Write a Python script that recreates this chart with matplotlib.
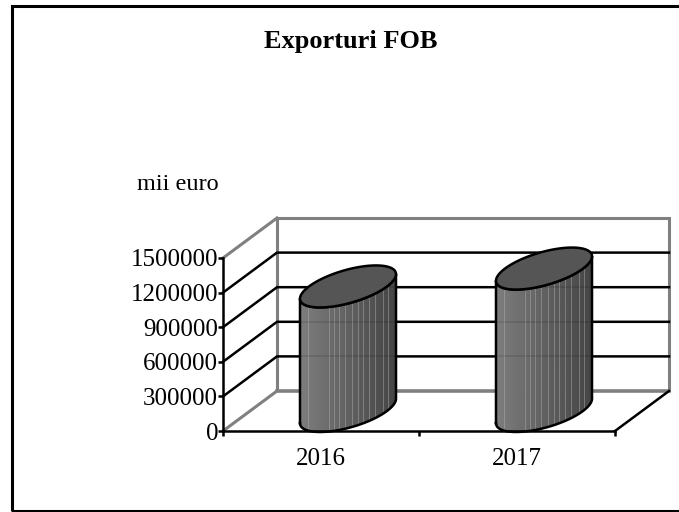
import numpy as np
from matplotlib import pyplot as plt
from matplotlib.patches import Polygon, Rectangle

W = 679
H = 512

years = ["2016", "2017"]
exports = [1080000, 1235000]
y_ticks = [0, 300000, 600000, 900000, 1200000, 1500000]
stripe_pos = [0.08, 0.30, 0.35, 0.41, 0.47, 0.54, 0.60, 0.66, 0.72, 0.78, 0.86, 0.92]

plt.rcParams["font.family"] = ["Liberation Serif", "DejaVu Serif"]

fig = plt.figure(figsize=(W/100, H/100), dpi=100)
ax = fig.add_axes([223/W, (H-431)/H, 392/W, 173/H])
ax.set_xlim(0, 2)
ax.set_ylim(0, 1500000)
ax.patch.set_alpha(0)

#one unit of depth in data units, so the "3d" box still goes through the axes scale
dx = 54/196
dy = 40/173*1500000

def back(x, y, d=1.0):
  return x + d*dx, y + d*dy

#outer frame runs off the right edge of the picture
fig.add_artist(Rectangle((12/W, 1.5/H), 700/W, (H-7.5)/H, transform=fig.transFigure,
  fill=False, ec="black", lw=2.2))

#walls
wall = [back(0, 0), back(0, 1500000), back(2, 1500000), back(2, 0)]
ax.add_patch(Polygon(wall, closed=False, fill=False, ec="#808080", lw=2.2, clip_on=False, zorder=1))
bx, by = zip(back(0, 0), back(2, 0))
ax.plot(bx, by, color="#808080", lw=2.6, clip_on=False, zorder=1)
bx, by = zip((0, 1500000), back(0, 1500000))
ax.plot(bx, by, color="#808080", lw=2.2, clip_on=False, zorder=1)
bx, by = zip((0, 0), back(0, 0))
ax.plot(bx, by, color="#808080", lw=2.2, clip_on=False, zorder=1)
bx, by = zip((2, 0), back(2, 0))
ax.plot(bx, by, color="black", lw=1.8, clip_on=False, zorder=2)

#gridlines on side wall and back wall
for v in y_ticks[1:-1]:
  gx, gy = zip((0, v), back(0, v), back(2, v))
  ax.plot(gx, gy, color="black", lw=1.8, clip_on=False, zorder=2)

#cylinders, ellipse is a circle lying on the skewed floor
rx = 39/196
sx = 28/196
sy = 21/173*1500000
t = np.linspace(0, 2*np.pi, 181)
gradient = np.linspace(0.49, 0.27, 96).reshape(1, -1)

for i, val in enumerate(exports):
  cx, cy = back(i + 0.5, 0, 0.5)
  ex = cx + rx*np.cos(t) + sx*np.sin(t)
  ey = sy*np.sin(t)

  #side wall outline from left tangent, round the front of the base, to right tangent, back over the top
  t0 = np.arctan2(sx, rx)
  ts = np.linspace(t0 + np.pi, t0 + 2*np.pi, 91)
  low_x = cx + rx*np.cos(ts) + sx*np.sin(ts)
  low_y = cy + sy*np.sin(ts)
  up_x = low_x[::-1]
  up_y = low_y[::-1] + val
  side = np.column_stack([np.r_[low_x, up_x], np.r_[low_y, up_y]])
  side_patch = Polygon(side, closed=True, fc="none", ec="none", transform=ax.transData, zorder=3)
  ax.add_patch(side_patch)

  left = low_x.min()
  right = low_x.max()
  img = ax.imshow(gradient, cmap="gray", vmin=0, vmax=1, aspect="auto", zorder=3,
    extent=[left, right, 0, 1500000], interpolation="bilinear")
  img.set_clip_path(side_patch)
  for p in stripe_pos:
    ln = ax.axvline(left + p*(right - left), color="#b4b4b4", lw=0.7, alpha=0.45, zorder=3.1)
    ln.set_clip_path(side_patch)
  #grid shows faintly through the body
  for v in y_ticks[1:-1]:
    ln = ax.axhline(back(0, v)[1], color="black", lw=1.4, alpha=0.1, zorder=3.2)
    ln.set_clip_path(side_patch)

  ax.plot(np.r_[low_x, up_x, low_x[0]], np.r_[low_y, up_y, low_y[0]], color="black", lw=1.8,
    clip_on=False, zorder=4)
  ax.fill(ex, cy + val + ey, fc="#555555", ec="black", lw=1.8, clip_on=False, zorder=5)

ax.set_xlim(0, 2)
ax.set_ylim(0, 1500000)

#axes
for s in ["top", "right"]:
  ax.spines[s].set_visible(False)
for s in ["left", "bottom"]:
  ax.spines[s].set_linewidth(1.8)
  ax.spines[s].set_zorder(6)
ax.set_yticks(y_ticks)
ax.set_yticklabels([str(v) for v in y_ticks], fontsize=18)
ax.set_xticks([0, 1, 2])
ax.set_xticklabels([])
ax.tick_params(axis="y", length=3.5, width=1.8, pad=0)
ax.tick_params(axis="x", length=3.5, width=1.8)
for i, name in enumerate(years):
  ax.annotate(name, (i + 0.5, 0), xytext=(0, -24.5), textcoords="offset points", ha="center",
    va="baseline", fontsize=18)

fig.text(351/W, 1 - 48/H, "Exporturi FOB", ha="center", va="baseline", fontsize=19, fontweight="bold")
fig.text(178/W, 1 - 190/H, "mii euro", ha="center", va="baseline", fontsize=17.5)

fig.savefig("out.png", dpi=100)
